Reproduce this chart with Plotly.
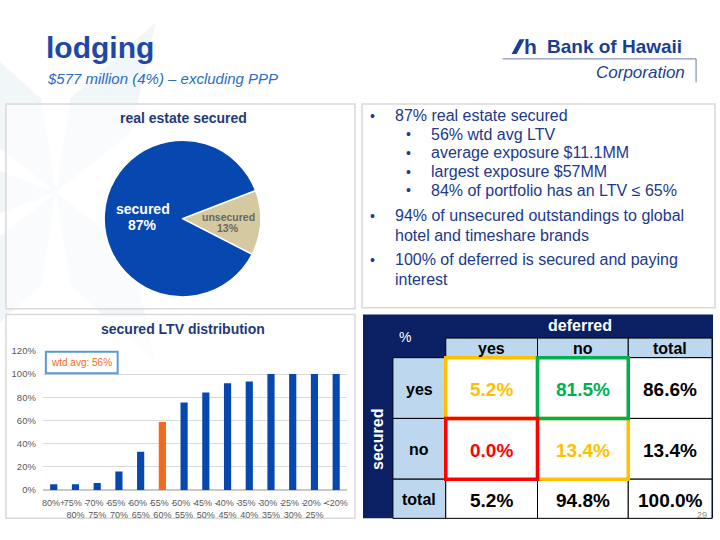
import math
import plotly.graph_objects as go

W, H = 720, 540
FONT = "Liberation Sans, Arial, sans-serif"

# ---------------- data ----------------
pie_labels = ["unsecured", "secured"]
pie_values = [13.4, 86.6]
pie_text = ["13%", "87%"]

ltv_categories = ["80%+", "75%-80%", "70%-75%", "65%-70%", "60%-65%", "55%-60%", "50%-55%",
                  "45%-50%", "40%-45%", "35%-40%", "30%-35%", "25%-30%", "20%-25%", "<20%"]
ltv_tick_labels = ["80%+", "75% -<br>80%", "70% -<br>75%", "65% -<br>70%", "60% -<br>65%",
                   "55% -<br>60%", "50% -<br>55%", "45% -<br>50%", "40% -<br>45%", "35% -<br>40%",
                   "30% -<br>35%", "25% -<br>30%", "20% -<br>25%", "<20%"]
ltv_cumulative = [5, 5, 6, 16, 33, 58.5, 75.5, 84, 92, 93.5, 100, 100, 100, 100]
wtd_avg_category = "55%-60%"
y_ticks = [0, 20, 40, 60, 80, 100, 120]
y_tick_labels = ["0%", "20%", "40%", "60%", "80%", "100%", "120%"]

col_headers = ["yes", "no", "total"]
row_headers = ["yes", "no", "total"]
table_values = [["5.2%", "81.5%", "86.6%"],
                ["0.0%", "13.4%", "13.4%"],
                ["5.2%", "94.8%", "100.0%"]]

bullets = [
    (0, "87% real estate secured"),
    (1, "56% wtd avg LTV"),
    (1, "average exposure $11.1MM"),
    (1, "largest exposure $57MM"),
    (1, "84% of portfolio has an LTV ≤ 65%"),
    (0, "94% of unsecured outstandings to global<br>hotel and timeshare brands"),
    (0, "100% of deferred is secured and paying<br>interest"),
]

# ---------------- helpers ----------------
def X(p):
    return p / W


def Y(p):
    return 1 - p / H


shapes = []
annotations = []


def rect(x0, y0, x1, y1, fill=None, line=None, lw=1, layer="above"):
    shapes.append(dict(type="rect", xref="paper", yref="paper",
                       x0=X(x0), x1=X(x1), y0=Y(y1), y1=Y(y0),
                       fillcolor=fill if fill else "rgba(0,0,0,0)",
                       line=dict(color=line if line else "rgba(0,0,0,0)", width=lw if line else 0),
                       layer=layer))


def seg(x0, y0, x1, y1, color, lw=1, layer="above"):
    shapes.append(dict(type="line", xref="paper", yref="paper",
                       x0=X(x0), x1=X(x1), y0=Y(y0), y1=Y(y1),
                       line=dict(color=color, width=lw), layer=layer))


def text(x, y, s, size=12, color="black", bold=False, italic=False, xanchor="center",
         angle=0, yanchor="middle"):
    if bold:
        s = "<b>" + s + "</b>"
    if italic:
        s = "<i>" + s + "</i>"
    annotations.append(dict(xref="paper", yref="paper", x=X(x), y=Y(y), text=s,
                            showarrow=False, xanchor=xanchor, yanchor=yanchor,
                            textangle=angle, align="left",
                            font=dict(family=FONT, size=size, color=color)))


# ---------------- faint background star ----------------
cx, cy = 55, 190
star_col = "#f1f6f9"
for ang in [60, 120, 180, 240, 300]:
    a = math.radians(ang)
    L, Wd = 200, 70
    ux, uy = math.cos(a), -math.sin(a)
    px_, py_ = -uy, ux
    pts = [(cx, cy),
           (cx + ux * L * 0.45 + px_ * Wd / 2, cy + uy * L * 0.45 + py_ * Wd / 2),
           (cx + ux * L, cy + uy * L),
           (cx + ux * L * 0.45 - px_ * Wd / 2, cy + uy * L * 0.45 - py_ * Wd / 2)]
    path = "M " + " L ".join(f"{X(x):.4f},{Y(y):.4f}" for x, y in pts) + " Z"
    shapes.append(dict(type="path", xref="paper", yref="paper", path=path,
                       fillcolor=star_col, line=dict(width=0), layer="below"))

# ---------------- panels ----------------
rect(5, 100, 355, 309, fill="rgba(255,255,255,0.6)", line="#d9d9d9", lw=1.5, layer="below")
rect(362, 100, 716, 308, fill="white", line="#d9d9d9", lw=1.5, layer="below")
rect(5, 315, 355, 523, fill="rgba(255,255,255,0.75)", line="#d9d9d9", lw=1.5, layer="below")

# ---------------- header ----------------
text(43, 42, "lodging", size=30, color="#1f48a6", bold=True, xanchor="left")
text(44, 74, "$577 million (4%) – excluding PPP", size=15, color="#2a6cc0", italic=True,
     xanchor="left")

# logo
logo_col = "#1b3f8f"
shapes.append(dict(type="path", xref="paper", yref="paper",
                   path=f"M {X(512):.4f},{Y(49):.4f} L {X(520):.4f},{Y(34):.4f} L {X(525):.4f},{Y(34):.4f} L {X(517):.4f},{Y(49):.4f} Z",
                   fillcolor=logo_col, line=dict(width=0)))
text(522, 41, "h", size=21, color=logo_col, bold=True, xanchor="left")
text(546, 41, "Bank of Hawaii", size=19, color=logo_col, bold=True, xanchor="left")
seg(503, 54, 697, 54, "#6b7ba3", 1)
seg(697, 54, 697, 78, "#6b7ba3", 1)
text(688, 68, "Corporation", size=17, color=logo_col, italic=True, xanchor="right")

# ---------------- pie ----------------
pie = go.Pie(labels=pie_labels, values=pie_values, sort=False, direction="clockwise",
             rotation=69, textinfo="none", hoverinfo="label+percent",
             marker=dict(colors=["#d5c9a1", "#0747b0"], line=dict(color="white", width=1.5)),
             domain=dict(x=[X(102), X(262)], y=[Y(297), Y(137)]), showlegend=False)
text(183, 114, "real estate secured", size=14, color="#1f3a78", bold=True)
text(142, 207, pie_labels[1], size=14, color="white", bold=True)
text(142, 224, pie_text[1], size=14, color="white", bold=True)
text(228, 215, pie_labels[0], size=10.5, color="#666666", bold=True)
text(228, 227, pie_text[0], size=10.5, color="#666666", bold=True)

# ---------------- bullets ----------------
bul_col = "#20398a"
ys = [112, 131, 150, 169, 188, 224, 269]
for (lvl, s), y in zip(bullets, ys):
    if "<br>" in s:
        first, second = s.split("<br>")
        text(373, y - 10, "•", size=14, color=bul_col)
        text(393, y - 10, first, size=16, color=bul_col, xanchor="left")
        text(393, y + 10, second, size=16, color=bul_col, xanchor="left")
    else:
        bx, tx = (373, 393) if lvl == 0 else (409, 429)
        text(bx, y, "•", size=14, color=bul_col)
        text(tx, y, s, size=16, color=bul_col, xanchor="left")

# ---------------- bar chart ----------------
bar_colors = ["#f26a1b" if c == wtd_avg_category else "#0747b0" for c in ltv_categories]
bar = go.Bar(x=ltv_categories, y=ltv_cumulative, marker=dict(color=bar_colors, line=dict(width=0)),
             width=0.33, xaxis="x", yaxis="y", showlegend=False,
             hovertemplate="%{x}: %{y}%<extra></extra>")
text(183, 330, "secured LTV distribution", size=14, color="#1f3a78", bold=True)
rect(45, 353, 117, 375, fill="white", line="#5b9bd5", lw=2)
text(81, 364, "wtd avg: 56%", size=10, color="#f26a1b")

# ---------------- table ----------------
navy = "#0b2062"
lblue = "#bdd7ee"
rect(363, 315, 714, 523, fill=navy)
cols = [446, 538, 629, 713]
rows = [359, 421, 483, 523]
for i in range(3):
    rect(cols[i], 339, cols[i + 1], 359, fill=lblue, line="black", lw=1)
    text((cols[i] + cols[i + 1]) / 2, 349.5, col_headers[i], size=16, color="black", bold=True)
for j in range(3):
    rect(393, rows[j], 446, rows[j + 1], fill=lblue, line="black", lw=1)
    text(419.5, (rows[j] + rows[j + 1]) / 2 + 1, row_headers[j], size=16, color="black", bold=True)
val_colors = [["#ffc000", "#00b050", "black"],
              ["#ff0000", "#ffc000", "black"],
              ["black", "black", "black"]]
for j in range(3):
    for i in range(3):
        rect(cols[i], rows[j], cols[i + 1], rows[j + 1], fill="white", line="black", lw=1)
for j in range(3):
    for i in range(3):
        text((cols[i] + cols[i + 1]) / 2, (rows[j] + rows[j + 1]) / 2 + 1.5, table_values[j][i],
             size=19, color=val_colors[j][i], bold=True)
rect(446, 359, 538, 421, line="#ffc000", lw=3.5)
rect(538, 421, 629, 483, line="#ffc000", lw=3.5)
rect(538, 359, 629, 421, line="#00b050", lw=3.5)
rect(446, 421, 538, 483, line="#ff0000", lw=3.5)

text(581, 326, "deferred", size=16, color="white", bold=True)
text(405, 338, "%", size=14, color="white")
text(378, 442, "secured", size=16, color="white", bold=True, angle=-90)
text(703, 520, "29", size=9, color="#8c8c8c")

# ---------------- figure ----------------
fig = go.Figure(data=[pie, bar])
fig.update_layout(
    width=W, height=H, margin=dict(l=0, r=0, t=0, b=0),
    paper_bgcolor="white", plot_bgcolor="rgba(0,0,0,0)",
    font=dict(family=FONT),
    shapes=shapes, annotations=annotations,
    xaxis=dict(domain=[X(42), X(347)], type="category", range=[-0.5, 13.5],
               tickmode="array", tickvals=ltv_categories, ticktext=ltv_tick_labels,
               tickangle=0, tickfont=dict(size=9, color="#595959"), showgrid=False,
               showline=False, zeroline=False, ticks="", anchor="y", ticklabelstandoff=6),
    yaxis=dict(domain=[Y(494), Y(352)], range=[0, 120], tickmode="array", tickvals=y_ticks,
               ticktext=y_tick_labels,
               tickfont=dict(size=9.5, color="#595959"), gridcolor="#d9d9d9", gridwidth=1,
               zeroline=True, zerolinecolor="#c8c8c8", zerolinewidth=1.5, showline=False,
               anchor="x", ticklabelstandoff=6),
    showlegend=False,
)
fig.write_html("out.html", post_script="document.body.style.margin='0px';",
               config={"displayModeBar": False})
